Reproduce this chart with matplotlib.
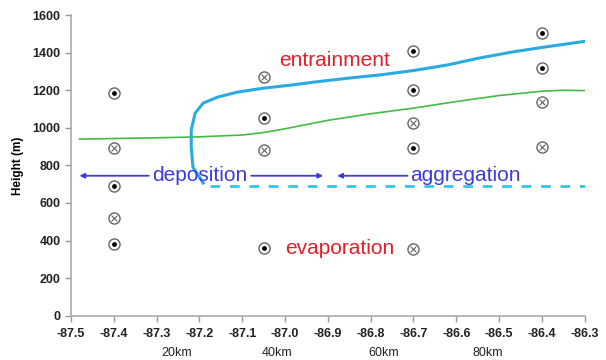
import matplotlib
matplotlib.use("Agg")
import matplotlib.pyplot as plt

plt.rcParams['font.family'] = ['Liberation Sans', 'DejaVu Sans']

# Observation columns: dotted circles and crossed circles
dot_x = [-87.4, -87.4, -87.4, -87.05, -87.05, -86.7, -86.7, -86.7, -86.4, -86.4]
dot_y = [1185, 690, 380, 1055, 360, 1410, 1200, 895, 1505, 1320]
cross_x = [-87.4, -87.4, -87.05, -87.05, -86.7, -86.7, -86.4, -86.4]
cross_y = [895, 520, 1270, 880, 1025, 355, 1140, 900]

# Entrainment boundary (cyan curve)
ent_x = [-87.191, -87.215, -87.219, -87.219, -87.210, -87.191, -87.158, -87.112,
         -87.051, -86.988, -86.934, -86.85, -86.777, -86.70, -86.62, -86.55, -86.466, -86.40, -86.298]
ent_y = [706, 791, 897, 988, 1078, 1132, 1163, 1190,
         1211, 1227, 1243, 1265, 1282, 1305, 1335, 1370, 1405, 1428, 1461]

# Green line
grn_x = [-87.48, -87.3, -87.2, -87.1, -87.05, -87.0, -86.9, -86.8, -86.7, -86.6, -86.5, -86.4, -86.35, -86.3]
grn_y = [940, 947, 952, 962, 975, 995, 1040, 1075, 1105, 1140, 1172, 1195, 1200, 1198]

# Dashed cyan level
dash_x = [-87.175, -86.3]
dash_y = [690, 690]

arrow_y = 745
km_labels = ["20km", "40km", "60km", "80km"]
km_x = [-87.254, -87.018, -86.77, -86.527]

xticks = [-87.5, -87.4, -87.3, -87.2, -87.1, -87.0, -86.9, -86.8, -86.7, -86.6, -86.5, -86.4, -86.3]
yticks = [0, 200, 400, 600, 800, 1000, 1200, 1400, 1600]

fig = plt.figure(figsize=(6.06, 3.60), dpi=100)
ax = fig.add_axes([0.117, 0.123, 0.848, 0.835])

ax.plot(grn_x, grn_y, color='#44bb44', lw=1.2, zorder=2)
ax.plot(ent_x, ent_y, color='#29abe2', lw=2.2, zorder=2, solid_joinstyle='round')
ax.plot(dash_x, dash_y, color='#33c4ec', lw=2.0, ls=(0, (3.5, 3.5)), zorder=2)

gray = '#666666'
ax.scatter(dot_x + cross_x, dot_y + cross_y, s=64, facecolor='white', edgecolor=gray, lw=1.0, zorder=3)
ax.scatter(dot_x, dot_y, s=6, color='black', zorder=4)
ax.scatter(cross_x, cross_y, s=18, marker='x', color=gray, lw=0.8, zorder=4)

blue = '#3c3cd8'
ap = dict(arrowstyle='-|>', color=blue, lw=1.3, mutation_scale=7, shrinkA=0, shrinkB=0)
ax.annotate('', xy=(-87.48, arrow_y), xytext=(-87.318, arrow_y), arrowprops=ap)
ax.annotate('', xy=(-86.911, arrow_y), xytext=(-87.079, arrow_y), arrowprops=ap)
ax.annotate('', xy=(-86.878, arrow_y), xytext=(-86.714, arrow_y), arrowprops=ap)
ax.annotate('', xy=(-86.267, arrow_y), xytext=(-86.443, arrow_y), arrowprops=ap)
ax.text(-87.199, arrow_y, 'deposition', color=blue, fontsize=15, ha='center', va='center')
ax.text(-86.579, arrow_y, 'aggregation', color=blue, fontsize=15, ha='center', va='center')

red = '#e0202a'
ax.text(-86.885, 1360, 'entrainment', color=red, fontsize=15, ha='center', va='center')
ax.text(-86.873, 360, 'evaporation', color=red, fontsize=15, ha='center', va='center')

for lab, x in zip(km_labels, km_x):
    ax.text(x, -200, lab, ha='center', va='center', fontsize=9, color='#222222')

ax.set_xlim(-87.5, -86.3)
ax.set_ylim(0, 1600)
ax.set_xticks(xticks)
ax.set_xticklabels([f"{v:.1f}" for v in xticks])
ax.set_yticks(yticks)
ax.tick_params(labelcolor='#222222', labelsize=9, length=4, width=1, direction='out', color='#999999')
ax.tick_params(axis='x', pad=5)
for lab in ax.get_xticklabels() + ax.get_yticklabels():
    lab.set_fontweight('bold')
for s in ['top', 'right']:
    ax.spines[s].set_visible(False)
for s in ['left', 'bottom']:
    ax.spines[s].set_color('#aaaaaa')
    ax.spines[s].set_linewidth(1.2)
ax.set_ylabel('Height (m)', fontsize=8.5, fontweight='bold', labelpad=6)

fig.savefig('out.png', dpi=100)
